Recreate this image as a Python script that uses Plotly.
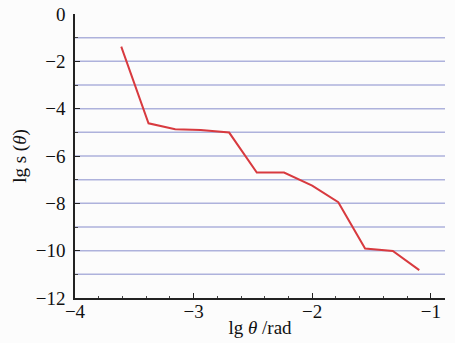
import plotly.graph_objects as go

lg_theta = [-3.61, -3.38, -3.155, -2.94, -2.70, -2.467, -2.237, -2.0, -1.78, -1.554, -1.32, -1.097]
lg_s = [-1.38, -4.62, -4.87, -4.90, -5.01, -6.70, -6.70, -7.25, -7.95, -9.91, -10.01, -10.82]
grid_vals = [-1, -2, -3, -4, -5, -6, -7, -8, -9, -10, -11]
y_ticks = [0, -2, -4, -6, -8, -10, -12]
y_ticktext = ["0", "−2", "−4", "−6", "−8", "−10", "−12"]
x_ticks = [-4, -3, -2, -1]
x_ticktext = ["−4", "−3", "−2", "−1"]

FAM = "Liberation Serif"
tickfont = dict(family=FAM, size=19, color="#111")
titlefont = dict(family=FAM, size=19, color="#111")

fig = go.Figure()
fig.add_trace(go.Scatter(x=lg_theta, y=lg_s, mode="lines",
                         line=dict(color="#d83a3f", width=2), showlegend=False))

for g in grid_vals:
    fig.add_shape(type="line", xref="paper", x0=0, x1=1, yref="y", y0=g, y1=g,
                  line=dict(color="#aeb2dc", width=1.5), layer="below")

fig.update_layout(
    width=455, height=343,
    margin=dict(l=75, r=10, t=14, b=45),
    paper_bgcolor="#fcfcfc", plot_bgcolor="#fcfcfc",
    font=dict(family=FAM, size=19, color="#111"),
    xaxis=dict(range=[-4, -0.88], tickvals=x_ticks, ticktext=x_ticktext, tickfont=tickfont,
               automargin=False, ticklabelstandoff=-5,
               showgrid=False, zeroline=False, showline=True, linecolor="#222", linewidth=1.5,
               ticks="inside", ticklen=5, tickcolor="#222",
               minor=dict(dtick=0.2, tick0=-4, ticks="inside", ticklen=2, tickcolor="#444"),
               title=dict(text="lg <i>θ</i> /rad", standoff=0, font=titlefont)),
    yaxis=dict(range=[-12, 0], tickvals=y_ticks, ticktext=y_ticktext, tickfont=tickfont,
               automargin=False, ticklabelstandoff=4,
               showgrid=False, zeroline=False, showline=True, linecolor="#222", linewidth=1.5,
               ticks="inside", ticklen=5, tickcolor="#222",
               minor=dict(dtick=1, tick0=0, ticks="inside", ticklen=3, tickcolor="#444"),
               title=dict(text="lg s (<i>θ</i>)", standoff=4, font=titlefont)),
)

fig.write_html("out.html", config={"displayModeBar": False},
               post_script="document.body.style.margin='0';")
